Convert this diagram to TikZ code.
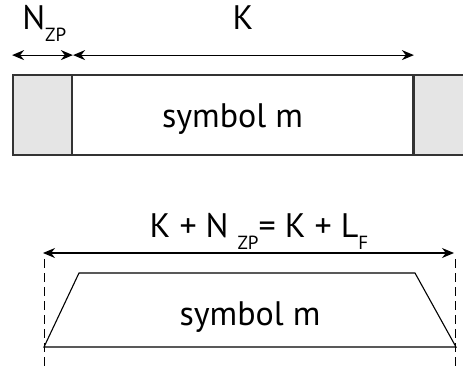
\documentclass[tikz,border=0pt]{standalone}
\usepackage{fontspec}
\setmainfont{PT Sans}
\usetikzlibrary{arrows.meta, positioning}

\newcommand{\lowsub}[1]{\raisebox{-12pt}{\fontsize{19}{19}\selectfont #1}}

\begin{document}
\begin{tikzpicture}[
                x = 1pt, y = 1pt, % one unit per pixel
                > = {Stealth[length=12pt, width=10pt]}, % arrow head style
                semithick % line style
            ]

            \tikzstyle{lbl}=[inner sep = 0pt, font = \fontsize{34}{34}\selectfont]
            \tikzstyle{slot}=[draw = black!80, line width = 1.8pt, inner sep = 0pt,
            minimum height = 80pt]
            \tikzstyle{dim}=[<->, line width = 1.1pt]

            \useasboundingbox (0,0) rectangle (463,368);

            % upper row: zero padding on both sides
            \node (zpL) [slot, fill = black!10, minimum width = 59pt] at (42.5,253) {};
            \node (symA) [slot, fill = white, minimum width = 341pt] at (242.5,253) {};
            \node (zpR) [slot, fill = black!10, minimum width = 56pt] at (442,253) {};
            \node (txtA) [lbl, anchor = base] at (232.5,241) {symbol m};

            \coordinate (a1) at ([yshift=19pt]zpL.north west);
            \coordinate (a2) at ([yshift=19pt]zpL.north east);
            \coordinate (a3) at ([xshift=2pt,yshift=19pt]symA.north west);
            \coordinate (a4) at ([yshift=19pt]symA.north east);
            \draw[dim] (a1) -- (a2); \draw[dim] (a3) -- (a4);

            \node (nzp) [lbl, anchor = base west] at (22,339) {N\lowsub{ZP}};
            \node (kk) [lbl, anchor = base] at (243,339) {K};

            % lower row: symbol after the channel
            \coordinate (t1) at (79,95); \coordinate (t2) at (415,95);
            \coordinate (b1) at (44,21); \coordinate (b2) at (456,21);
            \draw[line width = 1.1pt] (b1) -- (t1) -- (t2) -- (b2) -- cycle;
            \node (txtB) [lbl, anchor = base] at (250,43) {symbol m};

            \coordinate (d1) at (44,109); \coordinate (d2) at (44,0);
            \coordinate (d3) at (455,109); \coordinate (d4) at (455,0);
            \draw[dash pattern = on 9pt off 5pt, thick] (d1) -- (d2);
            \draw[dash pattern = on 9pt off 5pt, thick] (d3) -- (d4);

            \coordinate (c1) at (43,115); \coordinate (c2) at (454,115);
            \draw[dim] (c1) -- (c2);
            \node (sum) [lbl, anchor = base] at (259,131)
            {K + N\hspace{9pt}\lowsub{ZP}= K + L\lowsub{F}};

        \end{tikzpicture}
\end{document}
